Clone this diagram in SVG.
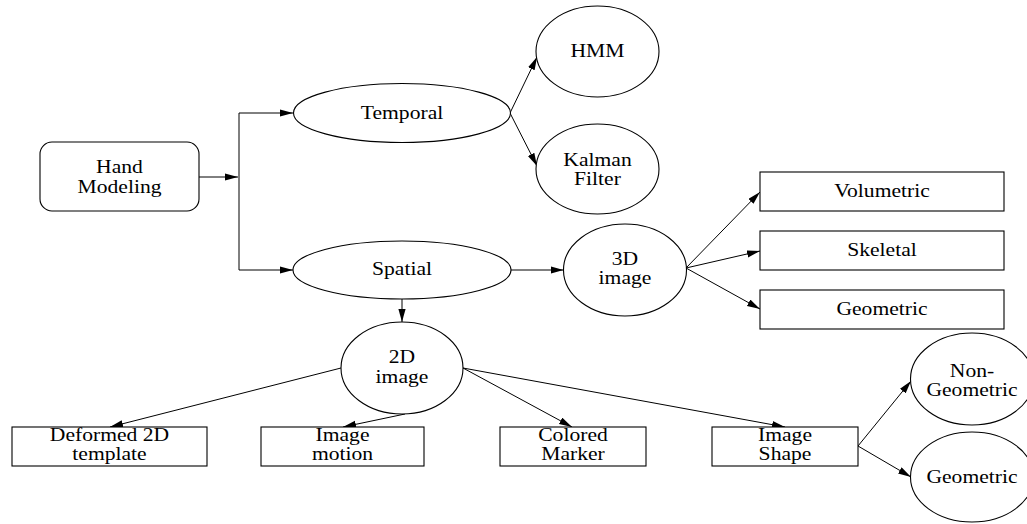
<svg xmlns="http://www.w3.org/2000/svg" width="1027" height="524" viewBox="0 0 1027 524">
<style>
.n{fill:#fff;stroke:#000;stroke-width:1.1}
.t{font-size:18px;text-anchor:middle;fill:#000}
.c{stroke:#000;stroke-width:1;fill:none}
.a{marker-end:url(#ah)}
</style>
<defs>
<marker id="ah" markerUnits="userSpaceOnUse" markerWidth="14" markerHeight="8" refX="13" refY="3.6" orient="auto">
<path d="M0,0 L13,3.6 L0,7.2 z" fill="#000"/>
</marker>
</defs>
<rect width="1027" height="524" fill="#fff"/>
<g id="connectors">
<line class="c a" x1="199" y1="177" x2="238" y2="177"/>
<line class="c" x1="239" y1="113" x2="239" y2="270"/>
<line class="c a" x1="239" y1="113" x2="293" y2="113"/>
<line class="c a" x1="239" y1="270" x2="293" y2="270"/>
<line class="c a" x1="510" y1="113" x2="537" y2="57"/>
<line class="c a" x1="510" y1="113" x2="537" y2="166"/>
<line class="c a" x1="511" y1="270" x2="563.5" y2="270"/>
<line class="c a" x1="402" y1="299" x2="402" y2="322"/>
<line class="c a" x1="686" y1="268" x2="760" y2="192"/>
<line class="c a" x1="686" y1="268" x2="760" y2="251"/>
<line class="c a" x1="686" y1="268" x2="760" y2="309"/>
<line class="c a" x1="341" y1="368" x2="110" y2="427"/>
<line class="c a" x1="405" y1="414" x2="343" y2="427"/>
<line class="c a" x1="463" y1="368" x2="572" y2="427"/>
<line class="c a" x1="463" y1="368" x2="785" y2="427"/>
<line class="c a" x1="858" y1="446" x2="911" y2="381"/>
<line class="c a" x1="858" y1="446" x2="911" y2="477"/>
</g>
<g id="nodes" font-family="Liberation Serif, Times New Roman, Times, DejaVu Serif, serif">
<g id="hand">
<rect class="n" x="40" y="142" width="159" height="69" rx="12"/>
<text class="t" transform="translate(119.5 173) scale(1.2 1)"><tspan x="0" y="0">Hand</tspan><tspan x="0" y="20">Modeling</tspan></text>
</g>
<g id="temporal">
<ellipse class="n" cx="402" cy="113" rx="108.5" ry="29.5"/>
<text class="t" transform="translate(402 119) scale(1.2 1)">Temporal</text>
</g>
<g id="hmm">
<ellipse class="n" cx="597.5" cy="51.5" rx="61.5" ry="45.5"/>
<text class="t" transform="translate(597.5 57) scale(1.2 1)">HMM</text>
</g>
<g id="kalman">
<ellipse class="n" cx="597.5" cy="169" rx="61.5" ry="45"/>
<text class="t" transform="translate(597.5 166) scale(1.2 1)"><tspan x="0" y="0">Kalman</tspan><tspan x="0" y="19">Filter</tspan></text>
</g>
<g id="spatial">
<ellipse class="n" cx="402" cy="270" rx="109" ry="29"/>
<text class="t" transform="translate(402 275) scale(1.2 1)">Spatial</text>
</g>
<g id="image3d">
<ellipse class="n" cx="625" cy="270" rx="61.5" ry="46"/>
<text class="t" transform="translate(625 265) scale(1.2 1)"><tspan x="0" y="0">3D</tspan><tspan x="0" y="19">image</tspan></text>
</g>
<g id="volumetric">
<rect class="n" x="760" y="172" width="244" height="39"/>
<text class="t" transform="translate(882 197) scale(1.2 1)">Volumetric</text>
</g>
<g id="skeletal">
<rect class="n" x="760" y="231" width="244" height="39"/>
<text class="t" transform="translate(882 256) scale(1.2 1)">Skeletal</text>
</g>
<g id="geometric3d">
<rect class="n" x="760" y="290" width="244" height="39"/>
<text class="t" transform="translate(882 315) scale(1.2 1)">Geometric</text>
</g>
<g id="image2d">
<ellipse class="n" cx="402" cy="368" rx="61" ry="46"/>
<text class="t" transform="translate(402 363) scale(1.2 1)"><tspan x="0" y="0">2D</tspan><tspan x="0" y="20">image</tspan></text>
</g>
<g id="deformed">
<rect class="n" x="12" y="427" width="195" height="39"/>
<text class="t" transform="translate(109.5 441) scale(1.2 1)"><tspan x="0" y="0">Deformed 2D</tspan><tspan x="0" y="19">template</tspan></text>
</g>
<g id="motion">
<rect class="n" x="261" y="427" width="163" height="39"/>
<text class="t" transform="translate(342.5 441) scale(1.2 1)"><tspan x="0" y="0">Image</tspan><tspan x="0" y="19">motion</tspan></text>
</g>
<g id="colored">
<rect class="n" x="500" y="427" width="146" height="39"/>
<text class="t" transform="translate(573 441) scale(1.2 1)"><tspan x="0" y="0">Colored</tspan><tspan x="0" y="19">Marker</tspan></text>
</g>
<g id="shape">
<rect class="n" x="712" y="427" width="146" height="39"/>
<text class="t" transform="translate(785 441) scale(1.2 1)"><tspan x="0" y="0">Image</tspan><tspan x="0" y="19">Shape</tspan></text>
</g>
<g id="nongeometric">
<ellipse class="n" cx="972" cy="379" rx="61.5" ry="46"/>
<text class="t" transform="translate(972 377) scale(1.2 1)"><tspan x="0" y="0">Non-</tspan><tspan x="0" y="19">Geometric</tspan></text>
</g>
<g id="geometric">
<ellipse class="n" cx="972" cy="477" rx="61.5" ry="45"/>
<text class="t" transform="translate(972 483) scale(1.2 1)">Geometric</text>
</g>
</g>
</svg>
